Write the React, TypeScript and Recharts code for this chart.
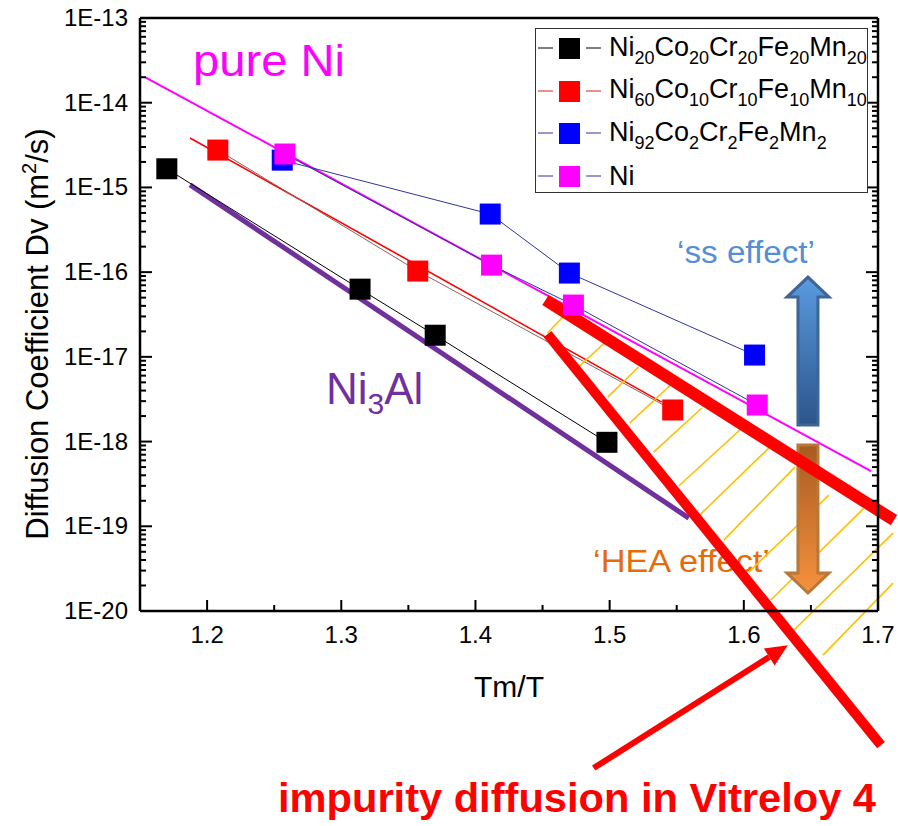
import React from "react";
import { Legend, Line, LineChart, ReferenceLine, XAxis, YAxis } from "recharts";

const FONT = "'Liberation Sans', Arial, sans-serif";

// Tm/T and diffusion coefficient Dv (m^2/s)
const hea20X = [1.17, 1.314, 1.37, 1.498];
const hea20D = [1.66e-15, 6.3e-17, 1.8e-17, 9.8e-19];
const ni60X = [1.208, 1.357, 1.547];
const ni60D = [2.76e-15, 1.03e-16, 2.36e-18];
const ni92X = [1.256, 1.411, 1.47, 1.608];
const ni92D = [2.1e-15, 4.85e-16, 9.75e-17, 1.05e-17];
const niX = [1.258, 1.412, 1.473, 1.61];
const niD = [2.48e-15, 1.21e-16, 4.09e-17, 2.7e-18];

// straight guide lines, [Tm/T, Dv] end points
const pureNiLine = [[1.1537, 2.01e-14], [1.6948, 4.49e-19]];
const ni3AlLine = [[1.1873, 1.07e-15], [1.559, 1.25e-19]];
const ni60Fit = [[1.1873, 3.83e-15], [1.5388, 2.92e-18]];
const vitreloyA = [[1.4522, 4.69e-17], [1.7119, 1.18e-19]];
const vitreloyB = [[1.4537, 1.86e-17], [1.7022, 2.61e-22]];
const vitreloyArrow = [[1.4881, 1.4e-22], [1.6328, 3.95e-21]];
const ssArrow = [[1.6478, 1.57e-18], [1.6478, 8.75e-17]];
const heaArrow = [[1.6478, 9.1e-19], [1.6478, 1.63e-20]];

// hatching between the two Vitreloy lines
const hatchX1 = [1.4537, 1.4769, 1.4985, 1.5149, 1.5328, 1.5515, 1.5657, 1.5851, 1.6037, 1.6201, 1.6366, 1.659];
const hatchD1 = [1.91e-17, 7.6e-18, 3.35e-18, 1.65e-18, 7.52e-19, 2.99e-19, 1.29e-19, 6.87e-20, 2.88e-20, 1.35e-20, 5.8e-21, 3.01e-21];
const hatchX2 = [1.4687, 1.4985, 1.5216, 1.547, 1.5687, 1.597, 1.6201, 1.6381, 1.6634, 1.6896, 1.7112, 1.7112];
const hatchD2 = [3.38e-17, 1.58e-17, 7.6e-18, 4.91e-18, 2.49e-18, 1.37e-18, 8.85e-19, 5.0e-19, 2.33e-19, 1.64e-19, 8.3e-20, 2.13e-20];

const xTicks = [1.2, 1.25, 1.3, 1.35, 1.4, 1.45, 1.5, 1.55, 1.6, 1.65, 1.7];
const xMajor = [1.2, 1.3, 1.4, 1.5, 1.6, 1.7];
const xLabels = ["1.2", "1.3", "1.4", "1.5", "1.6", "1.7"];
const yExponents = [-20, -19, -18, -17, -16, -15, -14, -13];
const yLabels = ["1E-20", "1E-19", "1E-18", "1E-17", "1E-16", "1E-15", "1E-14", "1E-13"];

const yTicks: number[] = [];
yExponents.forEach((e) => {
  const top = e === -13 ? 1 : 9;
  for (let m = 1; m <= top; m++) yTicks.push(Number(`${m}e${e}`));
});

const legendRows = [
  { parts: [["Ni", "20"], ["Co", "20"], ["Cr", "20"], ["Fe", "20"], ["Mn", "20"]], fill: "#000000", line: "#000000" },
  { parts: [["Ni", "60"], ["Co", "10"], ["Cr", "10"], ["Fe", "10"], ["Mn", "10"]], fill: "#ff0000", line: "#d02020" },
  { parts: [["Ni", "92"], ["Co", "2"], ["Cr", "2"], ["Fe", "2"], ["Mn", "2"]], fill: "#0000ff", line: "#333399" },
  { parts: [["Ni", ""]], fill: "#ff00ff", line: "#333399" },
];

const toPts = (xs: number[], ds: number[]) => xs.map((x, i) => ({ x, d: ds[i] }));
const fromPairs = (p: number[][]) => p.map(([x, d]) => ({ x, d }));
const toSeg = (p: number[][]) => p.map(([x, y]) => ({ x, y }));

const yMajorIndex = (v: number) => {
  const l = Math.log10(v);
  return Math.abs(l - Math.round(l)) < 1e-6 ? yExponents.indexOf(Math.round(l)) : -1;
};
const xMajorIndex = (v: number) => xMajor.findIndex((t) => Math.abs(t - v) < 1e-9);

function BottomTick({ x, y, payload }: any) {
  const i = xMajorIndex(payload.value);
  return (
    <g>
      <line x1={x} x2={x} y1={y} y2={y - (i >= 0 ? 11 : 6)} stroke="#000" strokeWidth={2} />
      {i >= 0 && (
        <text x={x} y={y + 32} textAnchor="middle" fontSize={24} fontFamily={FONT} fill="#000">
          {xLabels[i]}
        </text>
      )}
    </g>
  );
}

function TopTick({ x, y, payload }: any) {
  const i = xMajorIndex(payload.value);
  return <line x1={x} x2={x} y1={y} y2={y + (i >= 0 ? 11 : 6)} stroke="#000" strokeWidth={2} />;
}

function LeftTick({ x, y, payload }: any) {
  const i = yMajorIndex(payload.value);
  return (
    <g>
      <line x1={x} x2={x + (i >= 0 ? 12 : 6)} y1={y} y2={y} stroke="#000" strokeWidth={2} />
      {i >= 0 && (
        <text x={x - 12} y={y + 8} textAnchor="end" fontSize={24} fontFamily={FONT} fill="#000">
          {yLabels[i]}
        </text>
      )}
    </g>
  );
}

function RightTick({ x, y, payload }: any) {
  const i = yMajorIndex(payload.value);
  return <line x1={x} x2={x - (i >= 0 ? 12 : 6)} y1={y} y2={y} stroke="#000" strokeWidth={2} />;
}

const square = (fill: string) => (p: any) => (
  <rect key={`sq-${p.index}`} x={p.cx - 10.5} y={p.cy - 10.5} width={21} height={21} fill={fill} />
);

const thick = (color: string, w: number) => (p: any) => (
  <line x1={p.x1} y1={p.y1} x2={p.x2} y2={p.y2} stroke={color} strokeWidth={w} />
);

function RedArrow(p: any) {
  const dx = p.x2 - p.x1;
  const dy = p.y2 - p.y1;
  const len = Math.hypot(dx, dy);
  const ux = dx / len;
  const uy = dy / len;
  const bx = p.x2 - ux * 22;
  const by = p.y2 - uy * 22;
  return (
    <g>
      <line x1={p.x1} y1={p.y1} x2={bx} y2={by} stroke="#ff0000" strokeWidth={6} />
      <polygon
        points={`${p.x2},${p.y2} ${bx - uy * 10},${by + ux * 10} ${bx + uy * 10},${by - ux * 10}`}
        fill="#ff0000"
      />
    </g>
  );
}

const blockArrow = (fill: string, stroke: string) => (p: any) => {
  const x = p.x1;
  const s = Math.sign(p.y2 - p.y1);
  const hy = p.y2 - s * 20;
  const pts = [
    [x - 10, p.y1], [x - 10, hy], [x - 21, hy], [x, p.y2],
    [x + 21, hy], [x + 10, hy], [x + 10, p.y1],
  ];
  return <polygon points={pts.map((q) => q.join(",")).join(" ")} fill={fill} stroke={stroke} strokeWidth={3} />;
};

function LegendBox() {
  return (
    <div
      style={{
        position: "relative",
        width: 333,
        height: 165,
        boxSizing: "border-box",
        border: "1px solid #333",
        background: "#fff",
        fontFamily: FONT,
        color: "#000",
      }}
    >
      {legendRows.map((r, k) => (
        <div
          key={k}
          style={{ position: "absolute", left: 0, top: 4 + k * 42.5, height: 30, display: "flex", alignItems: "center" }}
        >
          <svg width={73} height={30} style={{ display: "block" }}>
            <line x1={2} x2={17} y1={15} y2={15} stroke={r.line} strokeWidth={1} />
            <rect x={23} y={5} width={21} height={21} fill={r.fill} />
            <line x1={50} x2={65} y1={15} y2={15} stroke={r.line} strokeWidth={1} />
          </svg>
          <span style={{ fontSize: 27, lineHeight: "30px", whiteSpace: "nowrap" }}>
            {r.parts.map(([el, sub], j) => (
              <React.Fragment key={j}>
                {el}
                {sub && <span style={{ fontSize: 18, position: "relative", top: 8 }}>{sub}</span>}
              </React.Fragment>
            ))}
          </span>
        </div>
      ))}
    </div>
  );
}

const axisStroke = { stroke: "#000", strokeWidth: 2.5 };

export default function App() {
  return (
    <div style={{ position: "absolute", left: 0, top: 0, width: 898, height: 826, background: "#fff", fontFamily: FONT }}>
      <LineChart width={898} height={826} margin={{ top: 17, right: 19, bottom: 214, left: 139 }}>
        <defs>
          <linearGradient id="ssFill" x1="0" y1="0" x2="0" y2="1">
            <stop offset="0%" stopColor="#5a9be0" />
            <stop offset="100%" stopColor="#2c548a" />
          </linearGradient>
          <linearGradient id="heaFill" x1="0" y1="0" x2="0" y2="1">
            <stop offset="0%" stopColor="#a85a22" />
            <stop offset="100%" stopColor="#f7923e" />
          </linearGradient>
        </defs>

        <text x={193} y={76} fontSize={44} fill="#ff00ff" textLength={152} lengthAdjust="spacingAndGlyphs">
          pure Ni
        </text>
        <text x={326} y={404} fontSize={44} fill="#7030a0">
          Ni<tspan fontSize={30} dy={10}>3</tspan>
          <tspan dy={-10}>Al</tspan>
        </text>
        <text x={677} y={263} fontSize={31} fill="#558ed5" textLength={138} lengthAdjust="spacingAndGlyphs">
          ‘ss effect’
        </text>
        <text x={593} y={572} fontSize={31} fill="#e46c0a" textLength={177} lengthAdjust="spacingAndGlyphs">
          ‘HEA effect’
        </text>
        <text x={509} y={697} fontSize={30} textAnchor="middle" fill="#000">
          Tm/T
        </text>
        <text transform="translate(48,334) rotate(-90)" fontSize={31} textAnchor="middle" fill="#000">
          Diffusion Coefficient Dv (m<tspan fontSize={20} dy={-12}>2</tspan>
          <tspan dy={12}>/s)</tspan>
        </text>
        <text
          x={278}
          y={812}
          fontSize={40}
          fontWeight="bold"
          fill="#ff0000"
          textLength={598}
          lengthAdjust="spacingAndGlyphs"
        >
          impurity diffusion in Vitreloy 4
        </text>

        <XAxis
          xAxisId={0}
          type="number"
          dataKey="x"
          domain={[1.15, 1.7]}
          allowDataOverflow
          ticks={xTicks}
          interval={0}
          tick={BottomTick}
          tickLine={false}
          tickSize={0}
          tickMargin={0}
          height={1}
          axisLine={axisStroke}
        />
        <XAxis
          xAxisId="top"
          orientation="top"
          type="number"
          domain={[1.15, 1.7]}
          allowDataOverflow
          ticks={xTicks}
          interval={0}
          tick={TopTick}
          tickLine={false}
          tickSize={0}
          tickMargin={0}
          height={1}
          axisLine={axisStroke}
        />
        <YAxis
          yAxisId={0}
          type="number"
          scale="log"
          domain={[1e-20, 1e-13]}
          allowDataOverflow
          ticks={yTicks}
          interval={0}
          tick={LeftTick}
          tickLine={false}
          tickSize={0}
          tickMargin={0}
          width={1}
          axisLine={axisStroke}
        />
        <YAxis
          yAxisId="right"
          orientation="right"
          type="number"
          scale="log"
          domain={[1e-20, 1e-13]}
          allowDataOverflow
          ticks={yTicks}
          interval={0}
          tick={RightTick}
          tickLine={false}
          tickSize={0}
          tickMargin={0}
          width={1}
          axisLine={axisStroke}
        />

        <Line data={fromPairs(pureNiLine)} dataKey="d" stroke="#ff00ff" strokeWidth={2} dot={false} activeDot={false} isAnimationActive={false} legendType="none" />
        <Line data={fromPairs(ni3AlLine)} dataKey="d" stroke="#7030a0" strokeWidth={5} dot={false} activeDot={false} isAnimationActive={false} legendType="none" />
        <Line data={fromPairs(ni60Fit)} dataKey="d" stroke="#ff0000" strokeWidth={1.6} dot={false} activeDot={false} isAnimationActive={false} legendType="none" />
        <Line data={toPts(hea20X, hea20D)} dataKey="d" name="Ni20Co20Cr20Fe20Mn20" stroke="#000000" strokeWidth={1} dot={square("#000000")} activeDot={false} isAnimationActive={false} />
        <Line data={toPts(ni60X, ni60D)} dataKey="d" name="Ni60Co10Cr10Fe10Mn10" stroke="#8a6060" strokeWidth={1} dot={square("#ff0000")} activeDot={false} isAnimationActive={false} />
        <Line data={toPts(ni92X, ni92D)} dataKey="d" name="Ni92Co2Cr2Fe2Mn2" stroke="#333399" strokeWidth={1} dot={square("#0000ff")} activeDot={false} isAnimationActive={false} />
        <Line data={toPts(niX, niD)} dataKey="d" name="Ni" stroke="#333399" strokeWidth={1} dot={square("#ff00ff")} activeDot={false} isAnimationActive={false} />

        {hatchX1.map((x, i) => (
          <ReferenceLine
            key={`h${i}`}
            segment={[{ x, y: hatchD1[i] }, { x: hatchX2[i], y: hatchD2[i] }]}
            ifOverflow="visible"
            stroke="#ffc000"
            strokeWidth={1.6}
          />
        ))}
        <ReferenceLine segment={toSeg(ssArrow)} ifOverflow="visible" shape={blockArrow("url(#ssFill)", "#3d6596")} />
        <ReferenceLine segment={toSeg(heaArrow)} ifOverflow="visible" shape={blockArrow("url(#heaFill)", "#b87838")} />
        <ReferenceLine segment={toSeg(vitreloyA)} ifOverflow="visible" shape={thick("#ff0000", 12)} />
        <ReferenceLine segment={toSeg(vitreloyB)} ifOverflow="visible" shape={thick("#ff0000", 10)} />
        <ReferenceLine segment={toSeg(vitreloyArrow)} ifOverflow="visible" shape={RedArrow} />

        <Legend
          layout="vertical"
          align="center"
          verticalAlign="middle"
          content={() => <LegendBox />}
          wrapperStyle={{ left: 535, top: 28, width: 333, height: 165 }}
        />
      </LineChart>
    </div>
  );
}
